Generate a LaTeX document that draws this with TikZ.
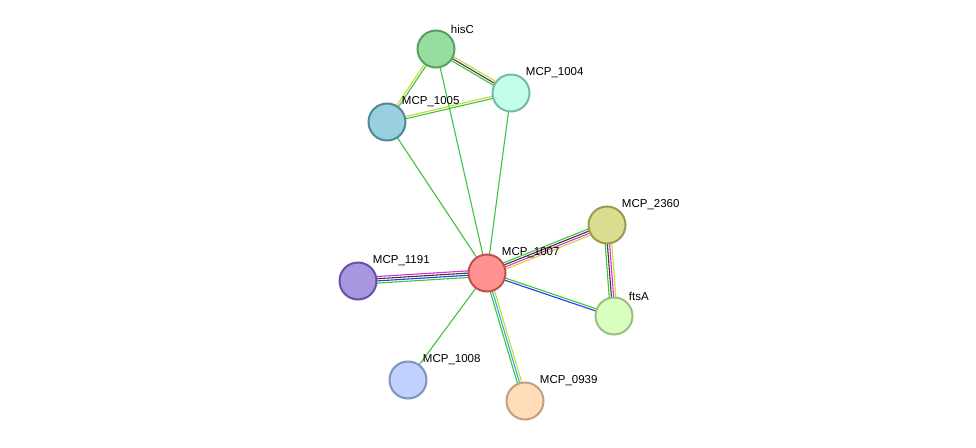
\documentclass[tikz,border=0pt]{standalone}
\usepackage{fontspec}
\setmainfont{Liberation Sans}
\usetikzlibrary{calc,backgrounds}
\definecolor{eGreen}{HTML}{3CC43C}
\definecolor{eYellow}{HTML}{C8D83A}
\definecolor{eMag}{HTML}{D92ED9}
\definecolor{eBlue}{HTML}{2B3BE8}
\definecolor{eCyan}{HTML}{2FA8DA}
\definecolor{eBlack}{HTML}{3C3C3C}
\definecolor{fHisC}{HTML}{98DDA0}\definecolor{dHisC}{HTML}{58A060}
\definecolor{fA}{HTML}{C2FFE8}\definecolor{dA}{HTML}{78B8A8}
\definecolor{fB}{HTML}{98D0E0}\definecolor{dB}{HTML}{508898}
\definecolor{fC}{HTML}{D9DD90}\definecolor{dC}{HTML}{9A9A50}
\definecolor{fD}{HTML}{FF9191}\definecolor{dD}{HTML}{C05050}
\definecolor{fE}{HTML}{A896E0}\definecolor{dE}{HTML}{6A50A0}
\definecolor{fF}{HTML}{D9FFC0}\definecolor{dF}{HTML}{98C080}
\definecolor{fG}{HTML}{C0D0FF}\definecolor{dG}{HTML}{8090C0}
\definecolor{fH}{HTML}{FFDDBB}\definecolor{dH}{HTML}{C0A080}
\tikzset{
	prot/.style 2 args={circle, draw=#2, fill=#1, line width=2pt, minimum size=37pt, inner sep=0pt},
	lbl/.style={font=\fontsize{11.5}{12}\selectfont, inner sep=1pt, label distance=0pt},
}
\newcommand\link[3]{\foreach \col/\off in {#3}
	\draw[\col, line width=1.1pt] ($(#1)!\off pt!90:(#2)$) -- ($(#2)!\off pt!-90:(#1)$);}
\begin{document}
\begin{tikzpicture}[x=1pt,y=-1pt]
	\useasboundingbox (0,0) rectangle (976,447);
	\node[prot={fHisC}{dHisC}, label={[lbl]north east:hisC}] (hisC) at (436,49) {};
	\node[prot={fA}{dA}, label={[lbl]north east:MCP\_1004}] (m1004) at (511,93) {};
	\node[prot={fB}{dB}, label={[lbl]north east:MCP\_1005}] (m1005) at (387,122) {};
	\node[prot={fC}{dC}, label={[lbl]north east:MCP\_2360}] (m2360) at (607,225) {};
	\node[prot={fD}{dD}, label={[lbl]north east:MCP\_1007}] (m1007) at (487,273) {};
	\node[prot={fE}{dE}, label={[lbl]north east:MCP\_1191}] (m1191) at (358,281) {};
	\node[prot={fF}{dF}, label={[lbl]north east:ftsA}] (ftsA) at (614,316) {};
	\node[prot={fG}{dG}, label={[lbl]north east:MCP\_1008}] (m1008) at (408,380) {};
	\node[prot={fH}{dH}, label={[lbl]north east:MCP\_0939}] (m0939) at (525,401) {};
	% edges
	\begin{scope}[on background layer]
		\link{m1191}{m1007}{eMag/3.3, eBlack/1.1, eBlue/-1.1, eGreen/-3.3}
		\link{m1007}{m2360}{eGreen/3.3, eBlack/1.1, eMag/-1.1, eYellow/-3.3}
		\link{m2360}{ftsA}{eGreen/-3.3, eBlack/-1.1, eMag/1.1, eYellow/3.3}
		\link{m1007}{ftsA}{eGreen/1.1, eBlue/-1.1}
		\link{m1007}{m0939}{eGreen/-2.2, eCyan/0, eYellow/2.2}
		\link{m1007}{m1008}{eGreen/0}
		\link{m1007}{m1005}{eGreen/0}
		\link{m1007}{hisC}{eGreen/0}
		\link{m1007}{m1004}{eGreen/0}
		\link{hisC}{m1004}{eYellow/2.2, eBlack/0, eGreen/-2.2}
		\link{hisC}{m1005}{eGreen/1.1, eYellow/-1.1}
		\link{m1005}{m1004}{eYellow/1.1, eGreen/-1.1}
	\end{scope}
\end{tikzpicture}
\end{document}
